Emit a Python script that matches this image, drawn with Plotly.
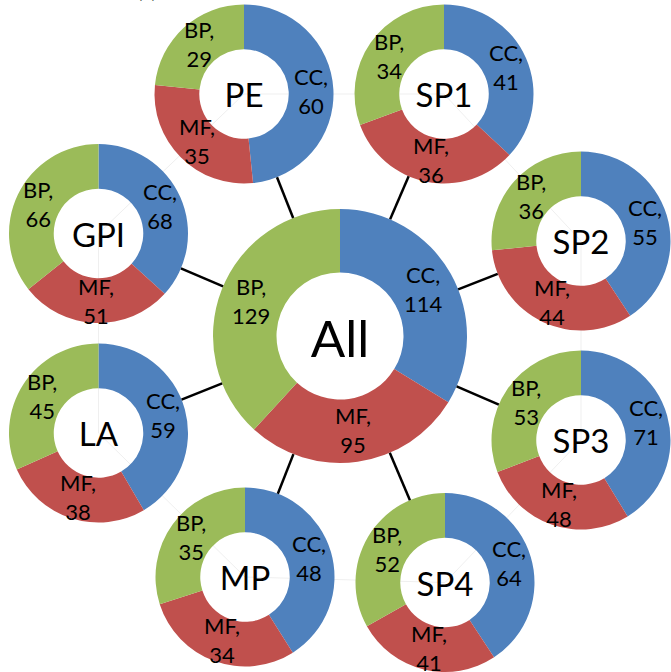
import math
import plotly.graph_objects as go

# Counts per group and category
groups = ["All", "PE", "SP1", "SP2", "SP3", "SP4", "MP", "LA", "GPI"]
categories = ["CC", "MF", "BP"]
cc_counts = [114, 60, 41, 55, 71, 64, 48, 59, 68]
mf_counts = [95, 35, 36, 44, 48, 41, 34, 38, 51]
bp_counts = [129, 29, 34, 36, 53, 52, 35, 45, 66]

colors = ["#4F81BD", "#C0504D", "#9BBB59"]

W, H = 671, 672
HOLE = 0.5
FONT = "Lato, 'Open Sans', sans-serif"

# Layout: pixel centre and radius of every donut
layout_px = {
    "All": (340, 336, 127),
    "PE": (244, 94, 89.5),
    "SP1": (444, 94, 89.5),
    "SP2": (581, 241, 89.5),
    "SP3": (581, 440, 89.5),
    "SP4": (445, 582.5, 89.5),
    "MP": (245, 577, 89.5),
    "LA": (98.5, 433, 89.5),
    "GPI": (98.5, 233.5, 89.5),
}
ring_order = ["PE", "SP1", "SP2", "SP3", "SP4", "MP", "LA", "GPI"]


def px_to_paper(x, y):
    return x / W, 1 - y / H


fig = go.Figure()
annotations = []
shapes = []

for i, g in enumerate(groups):
    cx, cy, r = layout_px[g]
    vals = [cc_counts[i], mf_counts[i], bp_counts[i]]
    x0, y1 = px_to_paper(cx - r, cy - r)
    x1, y0 = px_to_paper(cx + r, cy + r)
    big = g == "All"
    fig.add_trace(go.Pie(
        labels=categories,
        values=vals,
        hole=HOLE,
        sort=False,
        direction="clockwise",
        rotation=0,
        marker=dict(colors=colors, line=dict(width=0)),
        textinfo="none",
        hoverinfo="skip",
        showlegend=False,
        domain=dict(x=[max(0, x0), min(1, x1)], y=[max(0, y0), min(1, y1)]),
        title=dict(text=g, position="middle center",
                   font=dict(family=FONT, size=51 if big else 33, color="black")),
    ))
    # slice labels at the middle of each ring segment
    total = sum(vals)
    cum = 0
    rl = r * (1 + HOLE) / 2
    for cat, v in zip(categories, vals):
        mid = (cum + v / 2) / total * 2 * math.pi
        cum += v
        lx = cx + rl * math.sin(mid)
        ly = cy - rl * math.cos(mid)
        ax, ay = px_to_paper(lx, ly)
        annotations.append(dict(
            x=ax, y=ay, xref="paper", yref="paper", showarrow=False,
            xanchor="center", yanchor="middle",
            text=f"{cat},<br>{v}", align="center",
            font=dict(family=FONT, size=22, color="black"),
        ))

# faint ring joining neighbouring satellites
for a, b in zip(ring_order, ring_order[1:] + ring_order[:1]):
    ax_, ay_, _ = layout_px[a]
    bx_, by_, _ = layout_px[b]
    p0 = px_to_paper(ax_, ay_)
    p1 = px_to_paper(bx_, by_)
    shapes.append(dict(type="line", xref="paper", yref="paper", layer="below",
                       x0=p0[0], y0=p0[1], x1=p1[0], y1=p1[1],
                       line=dict(color="#efefef", width=1)))

# spokes from the central donut to each satellite
ccx, ccy, cr = layout_px["All"]
for g in ring_order:
    sx, sy, sr = layout_px[g]
    dx, dy = sx - ccx, sy - ccy
    d = math.hypot(dx, dy)
    ux, uy = dx / d, dy / d
    p0 = px_to_paper(ccx + ux * cr, ccy + uy * cr)
    p1 = px_to_paper(sx - ux * sr, sy - uy * sr)
    shapes.append(dict(type="line", xref="paper", yref="paper", layer="above",
                       x0=p0[0], y0=p0[1], x1=p1[0], y1=p1[1],
                       line=dict(color="black", width=2.5)))

# panel tag, mostly beyond the top edge
annotations.append(dict(x=147 / W, y=1, xref="paper", yref="paper", showarrow=False,
                        text="(a)", xanchor="center", yanchor="bottom", yshift=-4,
                        font=dict(family=FONT, size=20, color="black")))

fig.update_layout(
    width=W, height=H,
    margin=dict(l=0, r=0, t=0, b=0),
    paper_bgcolor="white", plot_bgcolor="white",
    annotations=annotations, shapes=shapes,
)

fig.write_html("out.html")
